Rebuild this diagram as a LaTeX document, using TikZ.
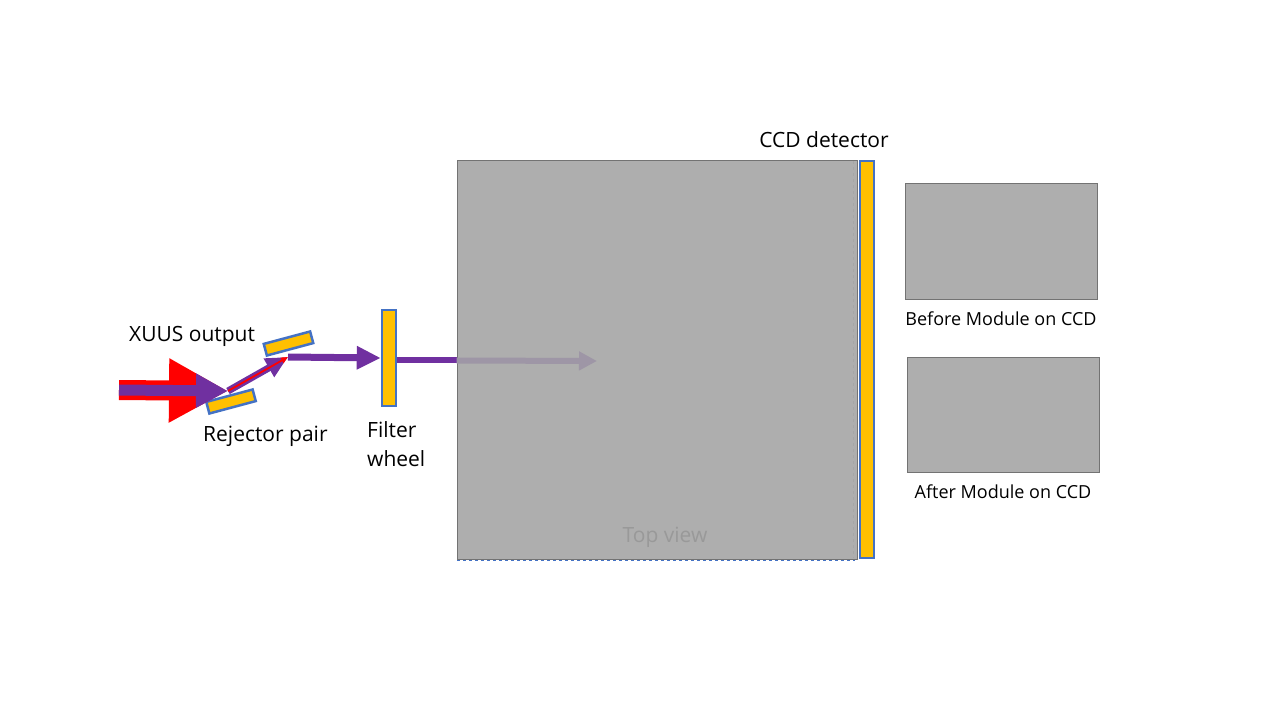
\documentclass[tikz,border=0pt]{standalone}
\usepackage{fontspec}
\setmainfont{Open Sans}
\usetikzlibrary{arrows.meta, positioning}
\definecolor{beamviolet}{HTML}{7030A0}
\definecolor{mirroryellow}{HTML}{FFC000}
\definecolor{edgeblue}{HTML}{4472C4}
\definecolor{boxgray}{HTML}{AEAEAE}
\definecolor{fadedbeam}{HTML}{9E96A6}
\begin{document}
\begin{tikzpicture}[x=1pt, y=-1pt, >=latex]

% --- Styles ---
\tikzset{
    optic/.style={rectangle, fill=mirroryellow, draw=edgeblue, line width=2.5pt, inner sep=0pt},
    chamber/.style={rectangle, fill=boxgray, draw=black!55, line width=0.8pt, inner sep=0pt},
    label/.style={font=\fontsize{21}{29}\selectfont, text=black, inner sep=0pt},
    smalllabel/.style={font=\fontsize{18}{22}\selectfont, text=black, inner sep=0pt},
    beam/.style={draw=beamviolet, line width=7pt, -{Triangle[length=24pt, width=22pt]}}
}

    \useasboundingbox (0,0) rectangle (1280,720);

    % Kamer (top view)
    \node[chamber, minimum width=400pt, minimum height=399pt] (tank) at (657,359.5) {};
    \draw[dashed, black!35, line width=0.6pt] (853.5,161) -- (853.5,558);
    \draw[dashed, edgeblue, line width=0.8pt] (457,560.5) -- (855,560.5);
    \node[label, text=black!40] (topview) at (665,537) {Top view};

    % CCD detector
    \node[optic, minimum width=14pt, minimum height=397pt] (ccd) at (867,359.5) {};
    \node[label] (ccdlabel) at (824,140) {CCD detector};

    % Beelden op de CCD
    \node[chamber, minimum width=192pt, minimum height=116pt] (before) at (1001,241) {};
    \node[smalllabel, below=12pt of before.south] (beforelabel) {Before Module on CCD};
    \node[chamber, minimum width=192pt, minimum height=115pt] (after) at (1003,414.5) {};
    \node[smalllabel, below=12pt of after.south] (afterlabel) {After Module on CCD};

    % Rejector pair
    \node[optic, minimum width=48pt, minimum height=12pt, rotate=15] (mirrorup) at (288.5,343.5) {};
    \node[optic, minimum width=48pt, minimum height=12pt, rotate=15] (mirrordown) at (231,401.5) {};
    \node[label, anchor=west] (xuus) at (129,336) {XUUS output};
    \node[label, anchor=west] (rejector) at (203,436) {Rejector pair};

    % Filter wheel
    \node[optic, minimum width=14pt, minimum height=96pt] (filter) at (389,358) {};
    \node[label, anchor=west, align=left] (filterlabel) at (367,444.5) {Filter\\wheel};

    % Bundelpunten
    \coordinate (src) at (119,390);
    \coordinate (hit1) at (228,391);
    \coordinate (hit2) at (288,357);
    \coordinate (stop) at (597,361);

    % Ingaande bundel (rood met violet erin)
    \draw[red, line width=20pt, -{Triangle[length=59pt, width=60pt]}] (src) -- (hit1);
    \draw[beamviolet, line width=11pt, -{Triangle[length=32pt, width=32pt]}] (src) -- (hit1);

    % Reflectie tussen de spiegels
    \draw[beamviolet, line width=7pt, -{Triangle[length=22pt, width=20pt]}] (hit1) -- (hit2);
    \draw[red, line width=1.8pt, -{Triangle[length=7pt, width=6pt]}] (hit1) -- (hit2);

    % Naar het filterwiel
    \draw[beam] (hit2) -- (filter.west);

    % Door het filterwiel de kamer in
    \draw[beamviolet, line width=6pt] (filter.east |- 0,360) -- (tank.west |- 0,360);
    \draw[fadedbeam, line width=6pt, -{Triangle[length=18pt, width=18pt]}] (tank.west |- 0,360.5) -- (stop);

\end{tikzpicture}
\end{document}
